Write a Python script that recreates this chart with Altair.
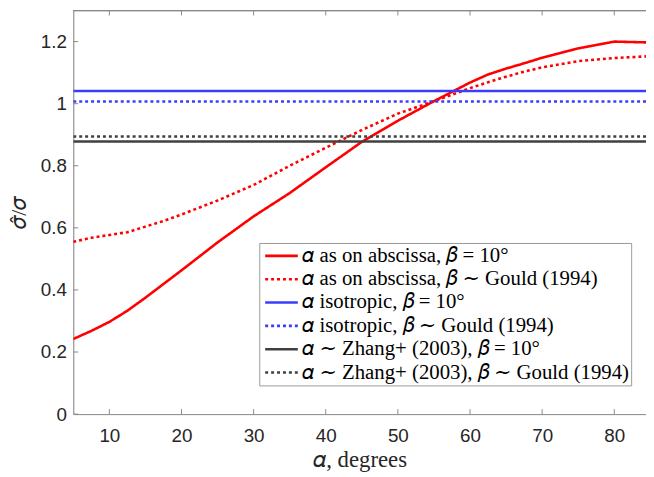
import altair as alt
import pandas as pd

alpha = [5, 7.5, 10, 12.5, 15, 17.5, 20, 25, 30, 35, 40, 45, 50, 55, 60, 62.5, 65, 67.5, 70, 75, 80, 85]
abscissa_b10 = [0.242, 0.268, 0.297, 0.333, 0.375, 0.419, 0.463, 0.553, 0.637, 0.712, 0.795, 0.877,
                0.945, 1.008, 1.068, 1.094, 1.113, 1.130, 1.148, 1.178, 1.200, 1.197]
abscissa_gould = [0.555, 0.568, 0.577, 0.586, 0.604, 0.622, 0.643, 0.688, 0.738, 0.800, 0.858, 0.915,
                  0.968, 1.008, 1.050, 1.069, 1.087, 1.103, 1.117, 1.137, 1.147, 1.153]
flat_x = [5, 85]
iso_b10 = 1.041
iso_gould = 1.007
zhang_b10 = 0.878
zhang_gould = 0.894

labels = [
    "𝛼 as on abscissa, 𝛽 = 10°",
    "𝛼 as on abscissa, 𝛽 ∼ Gould (1994)",
    "𝛼 isotropic, 𝛽 = 10°",
    "𝛼 isotropic, 𝛽 ∼ Gould (1994)",
    "𝛼 ∼ Zhang+ (2003), 𝛽 = 10°",
    "𝛼 ∼ Zhang+ (2003), 𝛽 ∼ Gould (1994)",
]
colors = ["#ff0000", "#ff0000", "#3c3cff", "#3c3cff", "#404040", "#404040"]
dashes = [[1, 0], [3, 3], [1, 0], [3, 3], [1, 0], [3, 3]]

xticks = [10, 20, 30, 40, 50, 60, 70, 80]
yticks = [0, 0.2, 0.4, 0.6, 0.8, 1.0, 1.2]

rows = []
for a, v in zip(alpha, abscissa_b10):
    rows.append({"a": a, "v": v, "s": labels[0], "o": 0})
for a, v in zip(alpha, abscissa_gould):
    rows.append({"a": a, "v": v, "s": labels[1], "o": 1})
for i, val in enumerate([iso_b10, iso_gould, zhang_b10, zhang_gould]):
    for a in flat_x:
        rows.append({"a": a, "v": val, "s": labels[i + 2], "o": i + 2})
df = pd.DataFrame(rows)

W, H = 579, 408
xscale = alt.Scale(domain=[5, 84.4], nice=False, zero=False)
yscale = alt.Scale(domain=[0, 1.3], nice=False)

serif = "Liberation Serif, DejaVu Serif, serif"
leg = dict(title=None, orient="none", legendX=188, legendY=235,
           symbolType="stroke", symbolSize=1089, symbolStrokeWidth=2.6, symbolOffset=3,
           labelFont=serif, labelFontSize=21,
           labelColor="black", labelLimit=500, labelOffset=3,
           clipHeight=23, rowPadding=0.6, padding=1.5, strokeColor="#9a9a9a",
           fillColor="white")

lines = alt.Chart(df).mark_line(strokeWidth=2.6, clip=True).encode(
    x=alt.X("a:Q", scale=xscale,
            axis=alt.Axis(values=xticks, ticks=False, title="𝛼, degrees", grid=False,
                          labelFont="Liberation Sans", labelFontSize=19, labelColor="#262626",
                          labelPadding=13, domainColor="#8a8a8a", domainWidth=1,
                          titleFont=serif, titleFontSize=23, titleFontWeight="normal",
                          titleColor="#262626", titlePadding=3)),
    y=alt.Y("v:Q", scale=yscale,
            axis=alt.Axis(values=yticks, ticks=False, format="~g", title="𝜎̂/𝜎", grid=False,
                          labelFont="Liberation Sans", labelFontSize=19, labelColor="#262626",
                          labelPadding=7, domainColor="#8a8a8a", domainWidth=1,
                          titleFont=serif, titleFontSize=22, titleFontWeight="normal",
                          titleColor="#262626", titlePadding=10)),
    color=alt.Color("s:N", scale=alt.Scale(domain=labels, range=colors), legend=alt.Legend(**leg)),
    strokeDash=alt.StrokeDash("s:N", scale=alt.Scale(domain=labels, range=dashes),
                              legend=alt.Legend(**leg)),
    order="o:Q",
    detail="s:N",
)

xt = pd.DataFrame({"t": xticks})
yt = pd.DataFrame({"t": yticks})
tick_col = "#8a8a8a"
xb = alt.Chart(xt).mark_rule(color=tick_col, strokeWidth=1).encode(
    x=alt.X("t:Q", scale=xscale), y=alt.value(H), y2=alt.value(H - 5))
xtop = alt.Chart(xt).mark_rule(color=tick_col, strokeWidth=1).encode(
    x=alt.X("t:Q", scale=xscale), y=alt.value(0), y2=alt.value(5))
yl = alt.Chart(yt).mark_rule(color=tick_col, strokeWidth=1).encode(
    y=alt.Y("t:Q", scale=yscale), x=alt.value(0), x2=alt.value(5))
topline = alt.Chart(xt).mark_rule(color=tick_col, strokeWidth=1).encode(
    x=alt.value(0), x2=alt.value(W), y=alt.value(0))

chart = alt.layer(xb, xtop, yl, topline, lines).properties(
    width=W, height=H,
    autosize=alt.AutoSizeParams(type="none"),
    padding={"left": 66, "top": 0, "right": 0, "bottom": 60},
).configure_view(stroke=None).configure(background="white")

chart.save("out.html", embed_options={"renderer": "svg", "actions": False})
